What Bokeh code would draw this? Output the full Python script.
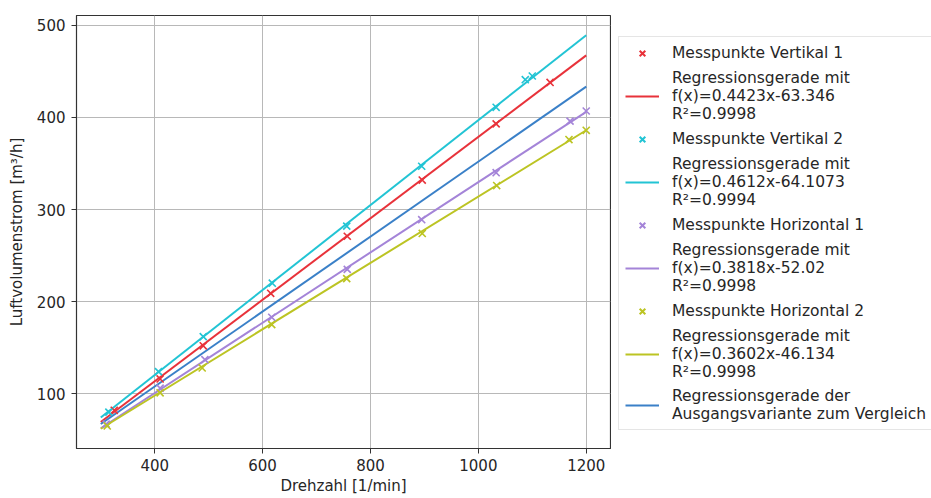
from bokeh.plotting import figure
from bokeh.models import Legend, LegendItem, Range1d
from bokeh.layouts import row
from bokeh.embed import file_html
from bokeh.resources import INLINE

# ---- data ----
v1_x = [325, 410, 490, 615, 757, 896, 1033, 1133]
v1_y = [82, 116, 152, 209, 271, 332, 393, 438]
v2_x = [315, 407, 490, 618, 756, 895, 1033, 1087, 1100]
v2_y = [80, 124, 162, 220, 282, 347, 411, 441, 445]
h1_x = [310, 410, 493, 617, 757, 895, 1033, 1170, 1200]
h1_y = [67, 106, 137, 183, 235, 289, 340, 396, 407]
h2_x = [312, 410, 488, 617, 756, 896, 1034, 1168, 1200]
h2_y = [65, 101, 128, 175, 225, 274, 326, 376, 386]

slopes = [0.4423, 0.4612, 0.3818, 0.3602, 0.407]
intercepts = [-63.346, -64.1073, -52.02, -46.134, -55.0]
line_x = [300, 1200]

point_labels = ["Messpunkte Vertikal 1", "Messpunkte Vertikal 2",
                "Messpunkte Horizontal 1", "Messpunkte Horizontal 2"]
line_labels = ["Regressionsgerade mit\nf(x)=0.4423x-63.346\nR\u00b2=0.9998",
               "Regressionsgerade mit\nf(x)=0.4612x-64.1073\nR\u00b2=0.9994",
               "Regressionsgerade mit\nf(x)=0.3818x-52.02\nR\u00b2=0.9998",
               "Regressionsgerade mit\nf(x)=0.3602x-46.134\nR\u00b2=0.9998",
               "Regressionsgerade der\nAusgangsvariante zum Vergleich"]
colors = ["#e8323a", "#22c4d4", "#a484d8", "#bcc423", "#3a80c8"]

x_ticks = [400, 600, 800, 1000, 1200]
y_ticks = [100, 200, 300, 400, 500]

FONT = "DejaVu Sans"
TXT = "#262626"

p = figure(width=611, height=498, output_backend="svg", toolbar_location=None,
           x_range=Range1d(255, 1245), y_range=Range1d(40.5, 510.7),
           min_border_left=76, min_border_right=1, min_border_top=15,
           min_border_bottom=50)
p.background_fill_color = "white"
p.border_fill_color = "white"
p.outline_line_color = "#333333"
p.outline_line_width = 1.2
p.outline_line_alpha = 1

p.xaxis.ticker = x_ticks
p.yaxis.ticker = y_ticks
p.grid.grid_line_color = "#b8b8b8"
p.grid.grid_line_width = 1
p.grid.grid_line_alpha = 1

for ax in (p.xaxis[0], p.yaxis[0]):
    ax.axis_line_color = "#333333"
    ax.major_tick_line_color = "#333333"
    ax.major_tick_out = 5
    ax.major_tick_in = 0
    ax.minor_tick_line_color = None
    ax.major_label_text_font = FONT
    ax.major_label_text_font_size = "15px"
    ax.major_label_text_color = TXT
    ax.axis_label_text_font = FONT
    ax.axis_label_text_font_size = "15px"
    ax.axis_label_text_font_style = "normal"
    ax.axis_label_text_color = TXT
    ax.major_label_standoff = 5
    ax.axis_label_standoff = 3

p.yaxis.major_label_standoff = 6
p.yaxis.axis_label_standoff = 8
p.xaxis.axis_label = "Drehzahl [1/min]"
p.yaxis.axis_label = "Luftvolumenstrom [m\u00b3/h]"

pts = [(v1_x, v1_y), (v2_x, v2_y), (h1_x, h1_y), (h2_x, h2_y)]
for i in range(5):
    ly = [slopes[i] * x + intercepts[i] for x in line_x]
    p.line(line_x, ly, line_color=colors[i], line_width=2)
for i in range(4):
    xs, ys = pts[i]
    p.scatter(xs, ys, marker="x", size=10, line_color=colors[i], line_width=1.6)

# ---- legend panel (separate figure to the right of the plot) ----
q = figure(width=320, height=498, output_backend="svg", toolbar_location=None,
           x_range=Range1d(0, 1), y_range=Range1d(0, 1),
           x_axis_location=None, y_axis_location=None, min_border=0)
q.grid.visible = False
q.outline_line_color = None
q.background_fill_color = "white"
q.border_fill_color = "white"

items = []
for i in range(4):
    rs = q.scatter([-5], [-5], marker="x", size=12, line_color=colors[i], line_width=2)
    rl = q.line([-5, -4], [-5, -4], line_color=colors[i], line_width=2)
    items.append(LegendItem(label=point_labels[i], renderers=[rs]))
    items.append(LegendItem(label=line_labels[i], renderers=[rl]))
rb = q.line([-5, -4], [-5, -4], line_color=colors[4], line_width=2)
items.append(LegendItem(label=line_labels[4], renderers=[rb]))

legend = Legend(items=items, location=(7, 18))
legend.label_text_font = FONT
legend.label_text_font_size = "15.5px"
legend.label_text_color = TXT
legend.glyph_width = 34
legend.glyph_height = 20
legend.label_height = 20
legend.label_standoff = 13
legend.spacing = 6
legend.padding = 6
legend.margin = 0
legend.border_line_color = "#cccccc"
legend.border_line_width = 1
legend.background_fill_alpha = 1
q.add_layout(legend)

layout = row(p, q)
open("out.html", "w").write(file_html(layout, INLINE))
